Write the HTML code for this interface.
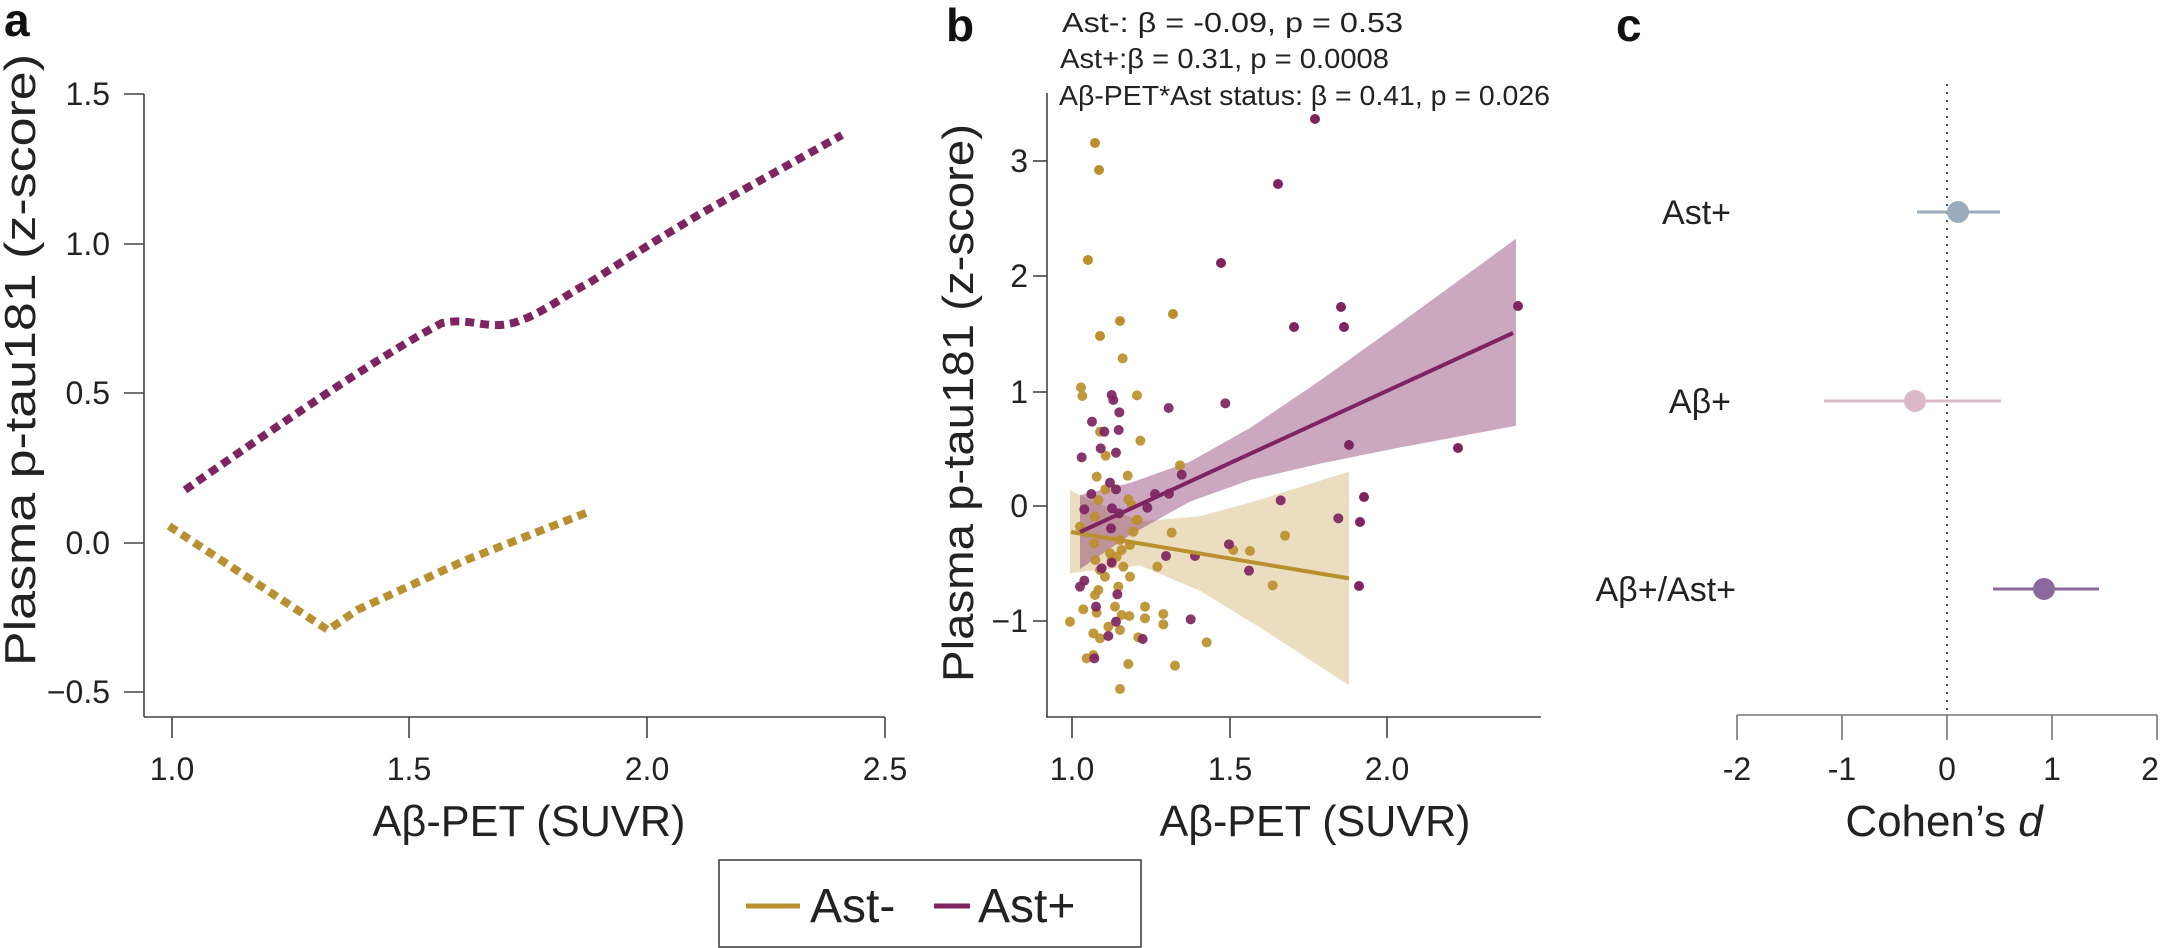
<!DOCTYPE html>
<html><head><meta charset="utf-8"><style>
html,body{margin:0;padding:0;background:#fff;}
svg{display:block;font-family:"Liberation Sans",sans-serif;}
</style></head><body>
<svg width="2161" height="948" viewBox="0 0 2161 948" xmlns="http://www.w3.org/2000/svg">
<!-- Panel labels -->
<text x="4" y="36" font-size="46" font-weight="bold" fill="#111">a</text>
<text x="946" y="41" font-size="46" font-weight="bold" fill="#111">b</text>
<text x="1616" y="41" font-size="46" font-weight="bold" fill="#111">c</text>

<!-- ===== Panel a ===== -->
<g stroke="#444" stroke-width="1.6" fill="none">
  <line x1="144" y1="94" x2="144" y2="717"/>
  <line x1="144" y1="717" x2="885" y2="717"/>
  <line x1="124" y1="94" x2="144" y2="94"/>
  <line x1="124" y1="244" x2="144" y2="244"/>
  <line x1="124" y1="393" x2="144" y2="393"/>
  <line x1="124" y1="543" x2="144" y2="543"/>
  <line x1="124" y1="692" x2="144" y2="692"/>
  <line x1="172" y1="717" x2="172" y2="738"/>
  <line x1="409" y1="717" x2="409" y2="738"/>
  <line x1="647" y1="717" x2="647" y2="738"/>
  <line x1="885" y1="717" x2="885" y2="738"/>
</g>
<g font-size="32" fill="#222" text-anchor="end">
  <text x="110" y="105">1.5</text>
  <text x="110" y="255">1.0</text>
  <text x="110" y="404">0.5</text>
  <text x="110" y="554">0.0</text>
  <text x="110" y="703">−0.5</text>
</g>
<g font-size="32" fill="#222" text-anchor="middle">
  <text x="172" y="780">1.0</text>
  <text x="409" y="780">1.5</text>
  <text x="647" y="780">2.0</text>
  <text x="885" y="780">2.5</text>
</g>
<text x="529" y="836" font-size="44" fill="#222" text-anchor="middle" textLength="313" lengthAdjust="spacingAndGlyphs">Aβ-PET (SUVR)</text>
<text transform="translate(35,360) rotate(-90)" font-size="44" fill="#222" text-anchor="middle" textLength="612" lengthAdjust="spacingAndGlyphs">Plasma p-tau181 (z-score)</text>

<path d="M185,490 C300,410 390,350 442,323 C465,318 480,326 500,325 C515,324 520,320 527,318 C555,305 570,292 589,283 C640,250 670,232 700,214 L842,135" fill="none" stroke="#7e2461" stroke-width="8" stroke-dasharray="9 6"/>
<path d="M169,526 L328,630 L357,610 L466,560 L591,511" fill="none" stroke="#b8902f" stroke-width="8" stroke-dasharray="9 6"/>

<!-- ===== Panel b ===== -->
<text x="1062" y="32" font-size="28" fill="#222" textLength="341" lengthAdjust="spacingAndGlyphs">Ast-: β = -0.09, p = 0.53</text>
<text x="1060" y="68" font-size="28" fill="#222" textLength="329" lengthAdjust="spacingAndGlyphs">Ast+:β = 0.31, p = 0.0008</text>
<text x="1059" y="105" font-size="28" fill="#222" textLength="491" lengthAdjust="spacingAndGlyphs">Aβ-PET*Ast status: β = 0.41, p = 0.026</text>

<!-- bands -->
<polygon points="1070,490.5 1140,521.5 1200,516.3 1260,499.7 1349,471.6 1349,685.2 1260,627.5 1200,590.7 1140,565.5 1070,573.1" fill="#c9a55a" fill-opacity="0.38"/>
<polygon points="1080,495 1130,483 1190,461.6 1250,428 1320,380.6 1400,323.3 1516,238.8 1516,425.8 1400,447.5 1320,463.6 1250,480 1190,501.6 1130,535 1080,569" fill="#7e2461" fill-opacity="0.4"/>

<!-- scatter points in zoom coordinates -->
<g transform="translate(1040,340) scale(0.33333)">
 <g fill="#bb8f2c" fill-opacity="0.92">
  <circle cx="248" cy="55" r="15"/><circle cx="123" cy="142" r="15"/><circle cx="127" cy="168" r="15"/><circle cx="291" cy="166" r="15"/><circle cx="301" cy="302" r="15"/><circle cx="197" cy="347" r="15"/><circle cx="170" cy="410" r="15"/><circle cx="263" cy="407" r="15"/><circle cx="180" cy="275" r="15"/><circle cx="420" cy="376" r="15"/><circle cx="196" cy="448" r="15"/><circle cx="265" cy="478" r="15"/><circle cx="275" cy="495" r="15"/><circle cx="293" cy="540" r="15"/><circle cx="120" cy="560" r="15"/><circle cx="395" cy="578" r="15"/><circle cx="735" cy="587" r="15"/><circle cx="580" cy="630" r="15"/><circle cx="630" cy="633" r="15"/><circle cx="280" cy="575" r="15"/><circle cx="270" cy="615" r="15"/><circle cx="245" cy="630" r="15"/><circle cx="230" cy="650" r="15"/><circle cx="215" cy="660" r="15"/><circle cx="250" cy="680" r="15"/><circle cx="270" cy="710" r="15"/><circle cx="352" cy="680" r="15"/><circle cx="195" cy="710" r="15"/><circle cx="180" cy="690" r="15"/><circle cx="166" cy="660" r="15"/><circle cx="163" cy="610" r="15"/><circle cx="698" cy="736" r="15"/><circle cx="175" cy="750" r="15"/><circle cx="165" cy="765" r="15"/><circle cx="235" cy="740" r="15"/><circle cx="130" cy="808" r="15"/><circle cx="170" cy="818" r="15"/><circle cx="225" cy="800" r="15"/><circle cx="245" cy="825" r="15"/><circle cx="268" cy="828" r="15"/><circle cx="315" cy="800" r="15"/><circle cx="315" cy="835" r="15"/><circle cx="370" cy="822" r="15"/><circle cx="370" cy="853" r="15"/><circle cx="90" cy="845" r="15"/><circle cx="160" cy="880" r="15"/><circle cx="180" cy="895" r="15"/><circle cx="205" cy="860" r="15"/><circle cx="240" cy="870" r="15"/><circle cx="295" cy="892" r="15"/><circle cx="500" cy="907" r="15"/><circle cx="265" cy="972" r="15"/><circle cx="405" cy="977" r="15"/><circle cx="140" cy="955" r="15"/><circle cx="160" cy="945" r="15"/><circle cx="240" cy="1047" r="15"/><circle cx="290" cy="540" r="15"/><circle cx="175" cy="480" r="15"/><circle cx="165" cy="530" r="15"/><circle cx="240" cy="600" r="15"/><circle cx="210" cy="640" r="15"/>
 </g>
 <g fill="#7e2461" fill-opacity="0.92">
  <circle cx="215" cy="165" r="15"/><circle cx="220" cy="180" r="15"/><circle cx="238" cy="217" r="15"/><circle cx="156" cy="245" r="15"/><circle cx="193" cy="275" r="15"/><circle cx="236" cy="270" r="15"/><circle cx="182" cy="325" r="15"/><circle cx="228" cy="338" r="15"/><circle cx="125" cy="352" r="15"/><circle cx="386" cy="204" r="15"/><circle cx="556" cy="190" r="15"/><circle cx="425" cy="404" r="15"/><circle cx="210" cy="428" r="15"/><circle cx="228" cy="448" r="15"/><circle cx="154" cy="462" r="15"/><circle cx="216" cy="505" r="15"/><circle cx="237" cy="520" r="15"/><circle cx="322" cy="503" r="15"/><circle cx="345" cy="462" r="15"/><circle cx="387" cy="461" r="15"/><circle cx="133" cy="508" r="15"/><circle cx="213" cy="565" r="15"/><circle cx="722" cy="481" r="15"/><circle cx="895" cy="535" r="15"/><circle cx="567" cy="613" r="15"/><circle cx="627" cy="692" r="15"/><circle cx="465" cy="648" r="15"/><circle cx="378" cy="648" r="15"/><circle cx="215" cy="668" r="15"/><circle cx="185" cy="685" r="15"/><circle cx="133" cy="722" r="15"/><circle cx="120" cy="740" r="15"/><circle cx="232" cy="763" r="15"/><circle cx="168" cy="800" r="15"/><circle cx="228" cy="845" r="15"/><circle cx="205" cy="888" r="15"/><circle cx="308" cy="897" r="15"/><circle cx="452" cy="838" r="15"/><circle cx="163" cy="955" r="15"/>
 </g>
</g>
<g fill="#bb8f2c">
  <circle cx="1088" cy="260" r="5"/><circle cx="1095" cy="143" r="5"/><circle cx="1099" cy="170" r="5"/><circle cx="1120" cy="321" r="5"/><circle cx="1173" cy="314" r="5"/><circle cx="1100" cy="336" r="5"/>
</g>
<g fill="#7e2461">
  <circle cx="1315" cy="119" r="5"/><circle cx="1278" cy="184" r="5"/><circle cx="1221" cy="263" r="5"/><circle cx="1341" cy="307" r="5"/><circle cx="1344" cy="327" r="5"/><circle cx="1294" cy="327" r="5"/><circle cx="1518" cy="306" r="5"/>
  <circle cx="1458" cy="448" r="5"/><circle cx="1349" cy="445" r="5"/><circle cx="1364" cy="497" r="5"/><circle cx="1360" cy="522" r="5"/><circle cx="1359" cy="586" r="5"/>
</g>
<!-- regression lines -->
<line x1="1071" y1="532" x2="1349" y2="578.4" stroke="#b8902f" stroke-width="4"/>
<line x1="1080" y1="532" x2="1513" y2="333" stroke="#7e2461" stroke-width="4"/>

<g stroke="#444" stroke-width="1.6" fill="none">
  <line x1="1047" y1="93" x2="1047" y2="717"/>
  <line x1="1046" y1="717" x2="1541" y2="717"/>
  <line x1="1033" y1="161" x2="1047" y2="161"/>
  <line x1="1033" y1="276" x2="1047" y2="276"/>
  <line x1="1033" y1="392" x2="1047" y2="392"/>
  <line x1="1033" y1="506" x2="1047" y2="506"/>
  <line x1="1033" y1="621" x2="1047" y2="621"/>
  <line x1="1072" y1="717" x2="1072" y2="738"/>
  <line x1="1230" y1="717" x2="1230" y2="738"/>
  <line x1="1387" y1="717" x2="1387" y2="738"/>
</g>
<g font-size="32" fill="#222" text-anchor="end">
  <text x="1028" y="172">3</text>
  <text x="1028" y="287">2</text>
  <text x="1028" y="403">1</text>
  <text x="1028" y="517">0</text>
  <text x="1028" y="632">−1</text>
</g>
<g font-size="32" fill="#222" text-anchor="middle">
  <text x="1072" y="780">1.0</text>
  <text x="1230" y="780">1.5</text>
  <text x="1387" y="780">2.0</text>
</g>
<text x="1315" y="836" font-size="44" fill="#222" text-anchor="middle" textLength="311" lengthAdjust="spacingAndGlyphs">Aβ-PET (SUVR)</text>
<text transform="translate(973,403) rotate(-90)" font-size="44" fill="#222" text-anchor="middle" textLength="558" lengthAdjust="spacingAndGlyphs">Plasma p-tau181 (z-score)</text>

<!-- ===== Panel c ===== -->
<line x1="1947" y1="84" x2="1947" y2="715" stroke="#555" stroke-width="2" stroke-dasharray="2 6"/>
<g stroke="#777" stroke-width="1.6" fill="none">
  <line x1="1737" y1="715" x2="2157" y2="715"/>
  <line x1="1737" y1="715" x2="1737" y2="740"/>
  <line x1="1842" y1="715" x2="1842" y2="740"/>
  <line x1="1947" y1="715" x2="1947" y2="740"/>
  <line x1="2052" y1="715" x2="2052" y2="740"/>
  <line x1="2157" y1="715" x2="2157" y2="740"/>
</g>
<g font-size="32" fill="#222" text-anchor="middle">
  <text x="1737" y="780">-2</text>
  <text x="1842" y="780">-1</text>
  <text x="1947" y="780">0</text>
  <text x="2052" y="780">1</text>
  <text x="2150" y="780">2</text>
</g>
<text x="1944" y="836" font-size="44" fill="#222" text-anchor="middle">Cohen’s <tspan font-style="italic">d</tspan></text>

<line x1="1917" y1="212" x2="2000" y2="212" stroke="#9aabbb" stroke-width="3"/>
<circle cx="1958" cy="212" r="11" fill="#9aabbb"/>
<line x1="1824" y1="401" x2="2001" y2="401" stroke="#dbb9c8" stroke-width="3"/>
<circle cx="1915" cy="401" r="11" fill="#dbb9c8"/>
<line x1="1993" y1="589" x2="2099" y2="589" stroke="#8a6a9c" stroke-width="3"/>
<circle cx="2044" cy="589" r="11" fill="#8a6a9c"/>
<g font-size="34" fill="#222" text-anchor="end">
  <text x="1731" y="224">Ast+</text>
  <text x="1731" y="413">Aβ+</text>
  <text x="1736" y="601">Aβ+/Ast+</text>
</g>

<!-- Legend -->
<rect x="719" y="860" width="422" height="87" fill="#fff" stroke="#444" stroke-width="1.6"/>
<line x1="746" y1="906" x2="800" y2="906" stroke="#b8902f" stroke-width="5"/>
<text x="810" y="922" font-size="48" fill="#222">Ast-</text>
<line x1="934" y1="906" x2="970" y2="906" stroke="#7e2461" stroke-width="5"/>
<text x="978" y="922" font-size="48" fill="#222">Ast+</text>
</svg>
</body></html>
